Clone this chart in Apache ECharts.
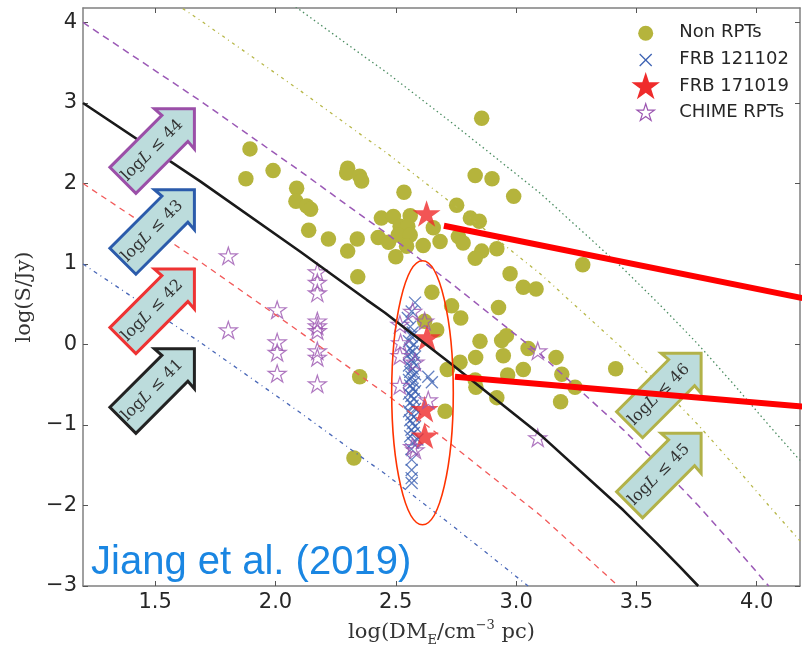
<!DOCTYPE html>
<html><head><meta charset="utf-8">
<script src="https://cdn.jsdelivr.net/npm/echarts@6/dist/echarts.min.js"></script>
<style>html,body{margin:0;padding:0;background:#fff}#c{width:802px;height:648px}</style>
</head><body><div id="c"></div>
<script>
// ---------- data ----------
const xTicks = [1.5, 2.0, 2.5, 3.0, 3.5, 4.0];
const yTicks = [-3, -2, -1, 0, 1, 2, 3, 4];

const nonRpts = [
 [1.894,2.43],[1.877,2.06],[1.99,2.16],[2.088,1.94],[2.085,1.78],[2.13,1.72],[2.146,1.68],[2.138,1.42],
 [2.22,1.31],[2.30,1.16],[2.34,1.31],[2.342,0.84],[2.30,2.19],[2.296,2.13],[2.35,2.09],[2.358,2.03],
 [2.44,1.57],[2.49,1.59],[2.427,1.33],[2.47,1.27],[2.50,1.09],[2.35,-0.40],[2.857,2.81],[2.534,1.89],
 [2.83,2.10],[2.90,2.06],[2.99,1.84],[2.753,1.73],[2.81,1.57],[2.847,1.53],[2.56,1.60],[2.518,1.47],
 [2.55,1.47],[2.51,1.36],[2.56,1.36],[2.545,1.22],[2.614,1.23],[2.656,1.45],[2.684,1.28],[2.76,1.34],
 [2.78,1.26],[2.857,1.16],[2.83,1.07],[2.92,1.19],[2.975,0.88],[3.03,0.71],[2.65,0.65],[3.277,0.99],
 [3.083,0.69],[2.927,0.46],[2.732,0.48],[2.77,0.33],[2.85,0.04],[2.94,0.05],[2.96,0.11],[3.05,-0.05],
 [3.166,-0.16],[2.947,-0.14],[2.832,-0.16],[2.767,-0.22],[2.714,-0.31],[3.03,-0.31],[2.965,-0.38],
 [3.19,-0.37],[2.83,-0.44],[2.833,-0.53],[3.245,-0.53],[2.92,-0.66],[3.185,-0.71],[3.414,-0.30],
 [2.705,-0.83],[2.326,-1.41],[2.67,0.18],[2.62,0.29]
];
const frb121102 = [
 [2.58,0.52],[2.566,0.41],[2.55,0.33],[2.56,0.22],[2.57,0.15],[2.566,0.10],[2.555,0.04],[2.575,0.00],
 [2.56,-0.05],[2.57,-0.09],[2.555,-0.12],[2.58,-0.15],[2.565,-0.19],[2.575,-0.23],[2.555,-0.26],
 [2.57,-0.30],[2.56,-0.34],[2.58,-0.37],[2.565,-0.40],[2.635,-0.40],[2.65,-0.47],[2.555,-0.44],
 [2.575,-0.47],[2.56,-0.51],[2.57,-0.55],[2.58,-0.58],[2.555,-0.61],[2.565,-0.64],[2.575,-0.68],
 [2.56,-0.72],[2.57,-0.76],[2.58,-0.80],[2.555,-0.83],[2.565,-0.87],[2.575,-0.90],[2.56,-0.94],
 [2.57,-0.98],[2.58,-1.02],[2.565,-1.06],[2.575,-1.10],[2.56,-1.14],[2.59,-1.18],[2.57,-1.22],
 [2.565,-1.30],[2.566,-1.43],[2.566,-1.56],[2.566,-1.66],[2.566,-1.72]
];
const frb171019 = [[2.628,1.61],[2.63,0.07],[2.62,-0.82],[2.62,-1.15]];
const chimeRpts = [
 [1.804,1.09],[1.804,0.17],[2.007,0.42],[2.007,0.02],[2.007,-0.11],[2.007,-0.37],
 [2.174,0.89],[2.174,0.76],[2.174,0.63],[2.174,0.28],[2.174,0.22],[2.174,0.16],[2.174,-0.09],
 [2.174,-0.17],[2.174,-0.50],[2.57,0.40],[2.62,0.28],[2.517,0.24],[2.52,0.01],[2.517,-0.15],
 [2.58,-0.23],[2.517,-0.52],[2.635,-0.70],[2.57,-1.28],[2.58,-1.32],[3.09,-0.09],[3.09,-1.17]
];
// luminosity curves
const curveBlue = [[1.2,1.0],[1.686,0.03],[2.102,-0.845],[2.379,-1.445],[2.455,-1.605],[2.739,-2.26],[3.05,-3.0]];
const curveRed = [[1.2,2.0],[1.686,1.03],[2.102,0.155],[2.379,-0.445],[2.455,-0.605],[2.739,-1.26],[3.1,-2.12],[3.425,-3.0]];
const curveBlack = [[1.2,3.0],[1.686,2.03],[2.102,1.155],[2.379,0.555],[2.455,0.395],[2.739,-0.26],[3.1,-1.12],[3.446,-2.06],[3.585,-2.47],[3.68,-2.76],[3.757,-3.0]];
const curvePurple = [[1.2,4.0],[1.686,3.03],[2.102,2.155],[2.379,1.555],[2.455,1.395],[2.739,0.74],[3.1,-0.12],[3.446,-1.06],[3.585,-1.47],[3.68,-1.76],[3.757,-2.0],[3.9,-2.48],[4.05,-3.0]];
const curveOlive = [[1.2,5.0],[1.686,4.03],[2.102,3.155],[2.379,2.555],[2.455,2.395],[2.739,1.74],[3.1,0.88],[3.446,-0.06],[3.585,-0.47],[3.68,-0.76],[3.757,-1.0],[3.9,-1.48],[4.05,-2.0],[4.18,-2.44]];
const curveGreen = [[1.686,5.03],[2.102,4.155],[2.379,3.555],[2.455,3.395],[2.739,2.74],[3.1,1.88],[3.446,0.94],[3.585,0.53],[3.68,0.24],[3.757,0.0],[3.9,-0.48],[4.05,-1.0],[4.18,-1.44]];
const redLine1 = [[2.70,1.475],[4.19,0.576]];
const redLine2 = [[2.746,-0.40],[4.19,-0.772]];
const arrowLabels = ['44','43','42','41','46','45'];
const legendNames = ['Non RPTs','FRB 121102','FRB 171019','CHIME RPTs'];
const titleText = 'Jiang et al. (2019)';

// ---------- annotation layout ----------
const arrowTips = [[1.663,2.927],[1.663,1.923],[1.663,0.937],[1.663,-0.053],[3.769,-0.108],[3.769,-1.103]];
const arrowColors = ['#9b4fa8','#2b5bab','#ee3333','#222222','#b2b249','#b2b249'];
const ellipseCfg = {cx:2.611, cy:-0.60, rx:0.128, ry:1.64};

const STAR = 'path://M50,0L61.2,34.5L97.6,34.5L68.2,55.9L79.4,90.5L50,69.1L20.6,90.5L31.8,55.9L2.4,34.5L38.8,34.5Z';
const XSYM = 'path://M0,0L10,10M10,0L0,10';
const OLIVE = '#b5b43c', BLUE = '#3d62b3', RED = '#ef2b2b', PURPLE = '#9b55b0';

const chart = echarts.init(document.getElementById('c'), null, {renderer:'canvas'});
const axisLine = {show:true, onZero:false, lineStyle:{color:'#808080', width:1.5}};
const fmtY = v => v < 0 ? '\u2212' + Math.abs(v) : String(v);

function curve(data, color, width, type, z){
  return {type:'line', data, xAxisIndex:0, yAxisIndex:0, showSymbol:false, symbol:'none',
    smooth:false, clip:true, z, silent:true,
    lineStyle:{color, width, type}};
}

const option = {
  animation:false,
  backgroundColor:'#fff',
  grid:{left:83, right:2, top:8, bottom:62, containLabel:false, outerBoundsMode:'none'},
  xAxis:[
    {type:'value', min:1.2, max:4.18, position:'bottom', axisLine,
     axisTick:{show:true, inside:true, length:5, customValues:xTicks, lineStyle:{color:'#555'}},
     axisLabel:{show:true, customValues:xTicks, formatter:v=>Number(v).toFixed(1), fontFamily:'DejaVu Sans', fontSize:21, color:'#262626', margin:6},
     splitLine:{show:false},
     name:'{n|log(DM}{s|E}{n|/cm}{p|\u22123}{n| pc)}', nameLocation:'middle', nameGap:33,
     nameTextStyle:{rich:{
       n:{fontFamily:'DejaVu Serif', fontSize:21, color:'#333', lineHeight:28},
       s:{fontFamily:'DejaVu Serif', fontSize:13, color:'#333', lineHeight:15, verticalAlign:'bottom'},
       p:{fontFamily:'DejaVu Serif', fontSize:13, color:'#333', lineHeight:15, verticalAlign:'top'}
     }}},
    {type:'value', min:1.2, max:4.18, position:'top', axisLine,
     axisTick:{show:true, inside:true, length:5, customValues:xTicks, lineStyle:{color:'#555'}},
     axisLabel:{show:false}, splitLine:{show:false}}
  ],
  yAxis:[
    {type:'value', min:-3, max:4.18, position:'left', axisLine,
     axisTick:{show:true, inside:true, length:5, customValues:yTicks, lineStyle:{color:'#555'}},
     axisLabel:{show:true, customValues:yTicks, formatter:fmtY, fontFamily:'DejaVu Sans', fontSize:21, color:'#262626', margin:6},
     splitLine:{show:false},
     name:'log(S/Jy)', nameLocation:'middle', nameRotate:90, nameGap:45,
     nameTextStyle:{fontFamily:'DejaVu Serif', fontSize:21, color:'#333'}},
    {type:'value', min:-3, max:4.18, position:'right', axisLine,
     axisTick:{show:true, inside:true, length:5, customValues:yTicks, lineStyle:{color:'#555'}},
     axisLabel:{show:false}, splitLine:{show:false}}
  ],
  series:[
    {name:legendNames[0], type:'scatter', data:nonRpts, symbol:'circle', symbolSize:15.5, z:2,
     itemStyle:{color:OLIVE, opacity:1}},
    {name:legendNames[1], type:'scatter', data:frb121102, symbol:XSYM, symbolSize:12, z:3,
     itemStyle:{color:'rgba(0,0,0,0)', borderColor:BLUE, borderWidth:1.3}},
    {name:legendNames[2], type:'scatter', data:frb171019, symbol:STAR, symbolSize:28, symbolKeepAspect:true, symbolOffset:[0,'-5%'], z:4,
     itemStyle:{color:RED}},
    {name:legendNames[3], type:'scatter', data:chimeRpts, symbol:STAR, symbolSize:18, symbolKeepAspect:true, symbolOffset:[0,'-5%'], z:5,
     itemStyle:{color:'rgba(0,0,0,0)', borderColor:PURPLE, borderWidth:1.2}},
    curve(curveBlue, '#4a68b8', 1.3, [4,4,1,4], 6),
    curve(curveRed, '#f25a5a', 1.3, [6,5], 6),
    curve(curvePurple, '#9b59b6', 1.5, [7,5], 6),
    curve(curveOlive, '#b7b748', 1.3, [3,4,1,4], 6),
    curve(curveGreen, '#4a8c60', 1.3, [1.5,3], 6),
    curve(curveBlack, '#1a1a1a', 2.6, 'solid', 7),
    {type:'line', data:redLine1, showSymbol:false, symbol:'none', z:20, silent:true, clip:true,
     lineStyle:{color:'#ff0000', width:6, cap:'butt'}},
    {type:'line', data:redLine2, showSymbol:false, symbol:'none', z:20, silent:true, clip:true,
     lineStyle:{color:'#ff0000', width:6, cap:'butt'}}
  ]
};
chart.setOption(option);

// ---------- annotations (placed through the chart's scales) ----------
const toPx = p => chart.convertToPixel({xAxisIndex:0, yAxisIndex:0}, p);
const g = [];
const arrowShape = [[0,0],[-40,0],[-32.5,6.5],[-84.5,58.5],[-58.5,84.5],[-6.5,32.5],[0,40]];
arrowTips.forEach((tip, i) => {
  const [tx, ty] = toPx(tip);
  g.push({type:'polygon', z:10, shape:{points:arrowShape.map(([dx,dy]) => [tx+dx, ty+dy])},
    style:{fill:'#bcdcdc', stroke:arrowColors[i], lineWidth:3, lineJoin:'miter'}});
  g.push({type:'text', z:11, x:tx-42, y:ty+41.5, rotation:Math.PI/4,
    style:{text:'{n|log}{i|L}{n| \u2264 ' + arrowLabels[i] + '}', align:'center', verticalAlign:'middle',
      rich:{n:{font:'16px "DejaVu Serif"', fill:'#333'}, i:{font:'italic 16px "DejaVu Serif"', fill:'#333'}}}});
});
// ellipse
{
  const c = toPx([ellipseCfg.cx, ellipseCfg.cy]);
  const e = toPx([ellipseCfg.cx + ellipseCfg.rx, ellipseCfg.cy + ellipseCfg.ry]);
  g.push({type:'ellipse', z:20, shape:{cx:c[0], cy:c[1], rx:Math.abs(e[0]-c[0]), ry:Math.abs(e[1]-c[1])},
    style:{fill:null, stroke:'#ff3300', lineWidth:1.6}});
}
// legend
function starPts(cx, cy, R){
  const pts = [];
  for (let i = 0; i < 10; i++){
    const a = -Math.PI/2 + i*Math.PI/5, rr = i % 2 ? R*0.382 : R;
    pts.push([cx + rr*Math.cos(a), cy + rr*Math.sin(a)]);
  }
  return pts;
}
const LX = 645.7, TX = 679.3, rows = [33.3, 60, 87, 113];
g.push({type:'circle', z:50, shape:{cx:LX, cy:rows[0], r:7.5}, style:{fill:OLIVE}});
g.push({type:'line', z:50, shape:{x1:LX-6, y1:rows[1]-6, x2:LX+6, y2:rows[1]+6}, style:{stroke:BLUE, lineWidth:1.3}});
g.push({type:'line', z:50, shape:{x1:LX+6, y1:rows[1]-6, x2:LX-6, y2:rows[1]+6}, style:{stroke:BLUE, lineWidth:1.3}});
g.push({type:'polygon', z:50, shape:{points:starPts(LX, rows[2], 15)}, style:{fill:RED}});
g.push({type:'polygon', z:50, shape:{points:starPts(LX, rows[3], 9.2)}, style:{fill:null, stroke:PURPLE, lineWidth:1.2}});
legendNames.forEach((t, i) => {
  g.push({type:'text', z:50, x:TX, y:rows[i] - 1, style:{text:t, font:'18px "DejaVu Sans"', fill:'#262626', align:'left', verticalAlign:'middle'}});
});
// citation text
g.push({type:'text', z:30, x:91, y:563, style:{text:titleText, font:'40px "Liberation Sans"', fill:'#1a86e2', align:'left', verticalAlign:'middle'}});

chart.setOption({graphic:{elements:g}});
</script>
</body></html>
